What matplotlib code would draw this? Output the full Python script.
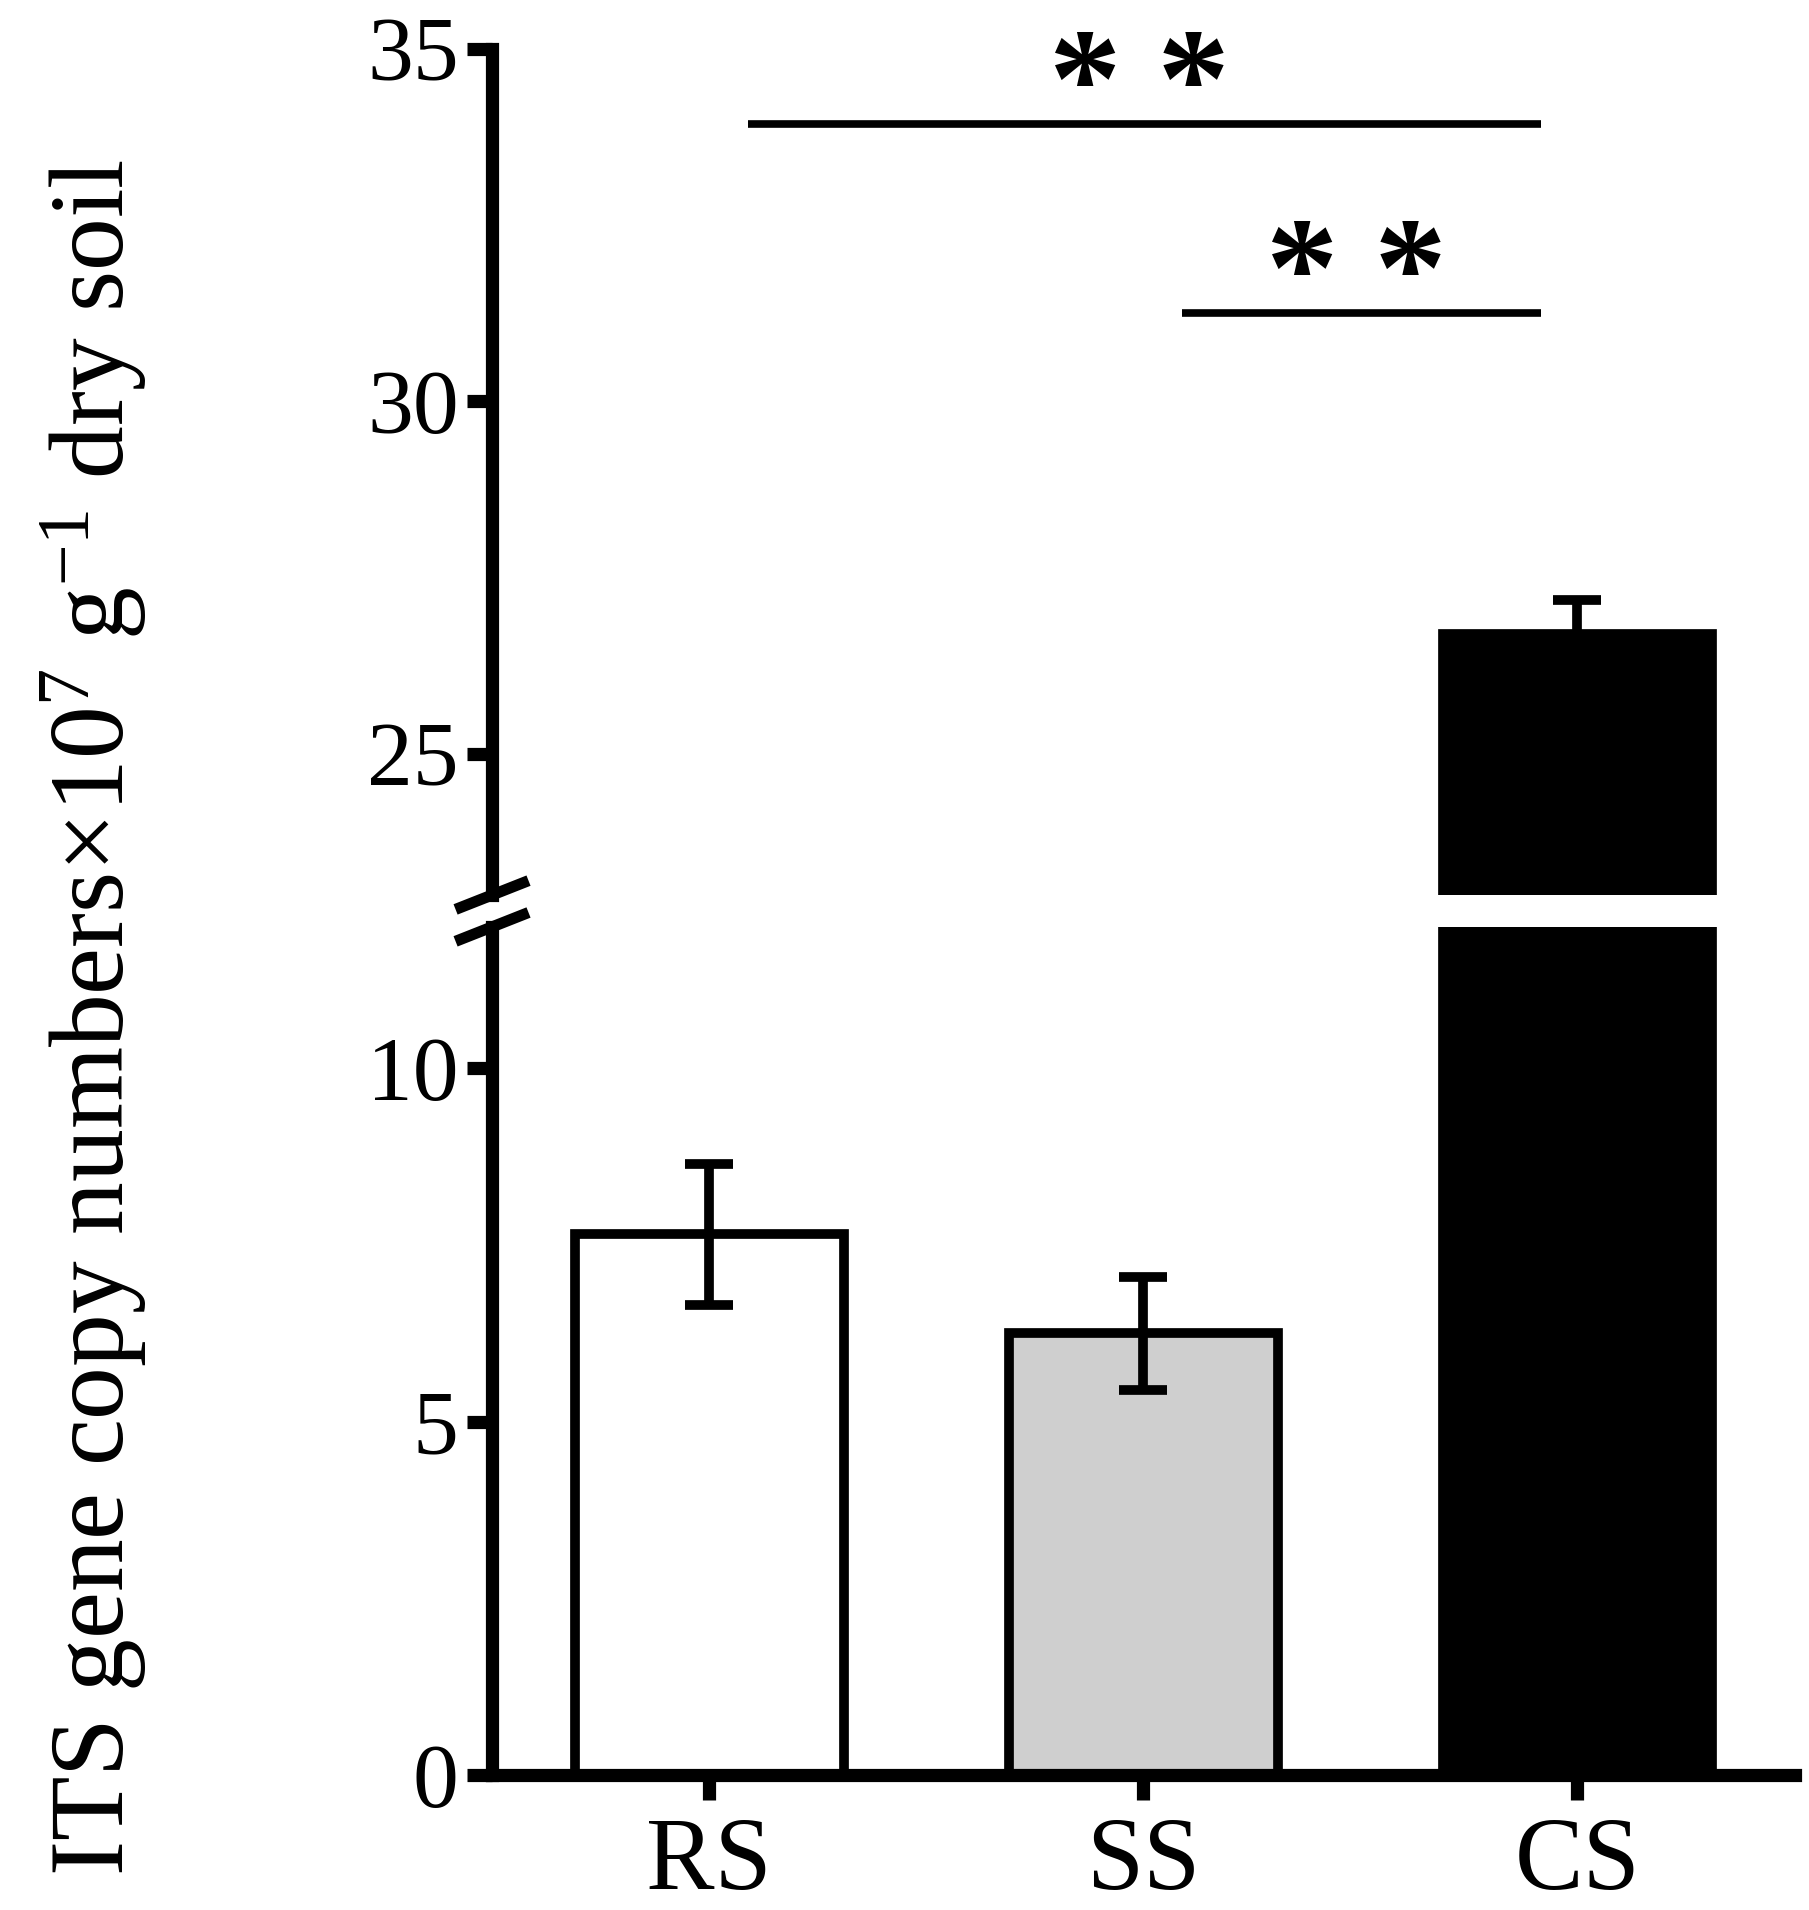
import numpy as np
import matplotlib
matplotlib.use('Agg')
import matplotlib.pyplot as plt

# fonte estilo Times
plt.rcParams['font.family'] = ['Liberation Serif', 'DejaVu Serif']
plt.rcParams['mathtext.fontset'] = 'custom'
plt.rcParams['mathtext.rm'] = 'Liberation Serif'
plt.rcParams['mathtext.it'] = 'Liberation Serif:italic'

# dados
groups = ['RS', 'SS', 'CS']
means = [7.65, 6.25, 26.7]
errors = [1.0, 0.8, 0.48]
bar_colors = ['white', '#cfcfcf', 'black']
signif = [(0, 2, '* *'), (1, 2, '* *')]

LW = 9.5        # espessura dos eixos
BAR_LW = 7
x = np.arange(len(groups))

fig = plt.figure(figsize=(18.09, 19.10), dpi=100)
ax_top = fig.add_axes([0.272, 0.5314, 0.720, 0.443])
ax_bot = fig.add_axes([0.272, 0.0707, 0.720, 0.444])

for ax in (ax_top, ax_bot):
    ax.bar(x, means, width=0.62, color=bar_colors, edgecolor='black',
           linewidth=BAR_LW, zorder=2)
    ax.errorbar(x, means, yerr=errors, fmt='none', ecolor='black',
                elinewidth=7, capsize=17, capthick=7, zorder=3)
    ax.set_xlim(-0.5, 2.5)
    for s in ('top', 'right'):
        ax.spines[s].set_visible(False)
    ax.spines['left'].set_linewidth(LW)
    ax.spines['bottom'].set_linewidth(LW)
    ax.tick_params(axis='both', width=LW, length=18, direction='out',
                   labelsize=66, pad=6)

ax_top.set_ylim(23, 35)
ax_top.set_yticks([25, 30, 35])
ax_top.spines['bottom'].set_visible(False)
ax_top.set_xticks([])

ax_bot.set_ylim(0, 12)
ax_bot.set_yticks([0, 5, 10])
ax_bot.set_xticks(x)
ax_bot.set_xticklabels(groups, fontsize=74)
ax_bot.tick_params(axis='x', pad=12)

# marcas de quebra do eixo y
dx, dy = 0.028, 0.017
ax_top.plot([-dx, dx], [-dy, dy], transform=ax_top.transAxes, color='black',
            lw=8, clip_on=False, solid_capstyle='butt')
ax_bot.plot([-dx, dx], [1 - dy, 1 + dy], transform=ax_bot.transAxes, color='black',
            lw=8, clip_on=False, solid_capstyle='butt')

# linhas de significância
line_y = [33.94, 31.26]
for (i, j, lab), yy in zip(signif, line_y):
    ax_top.plot([i + 0.09, j - 0.085], [yy, yy], color='black', lw=5.5,
                solid_capstyle='butt', clip_on=False)
    ax_top.text((i + j) / 2 - 0.01, yy - 0.05, lab, ha='center', va='baseline',
                fontsize=104, fontweight='bold')

fig.text(0.052, 0.467,
         r'ITS gene copy numbers×10$^{7}$ g$^{-1}$ dry soil',
         rotation=90, ha='center', va='center', fontsize=76)

fig.savefig('out.png', dpi=100)
